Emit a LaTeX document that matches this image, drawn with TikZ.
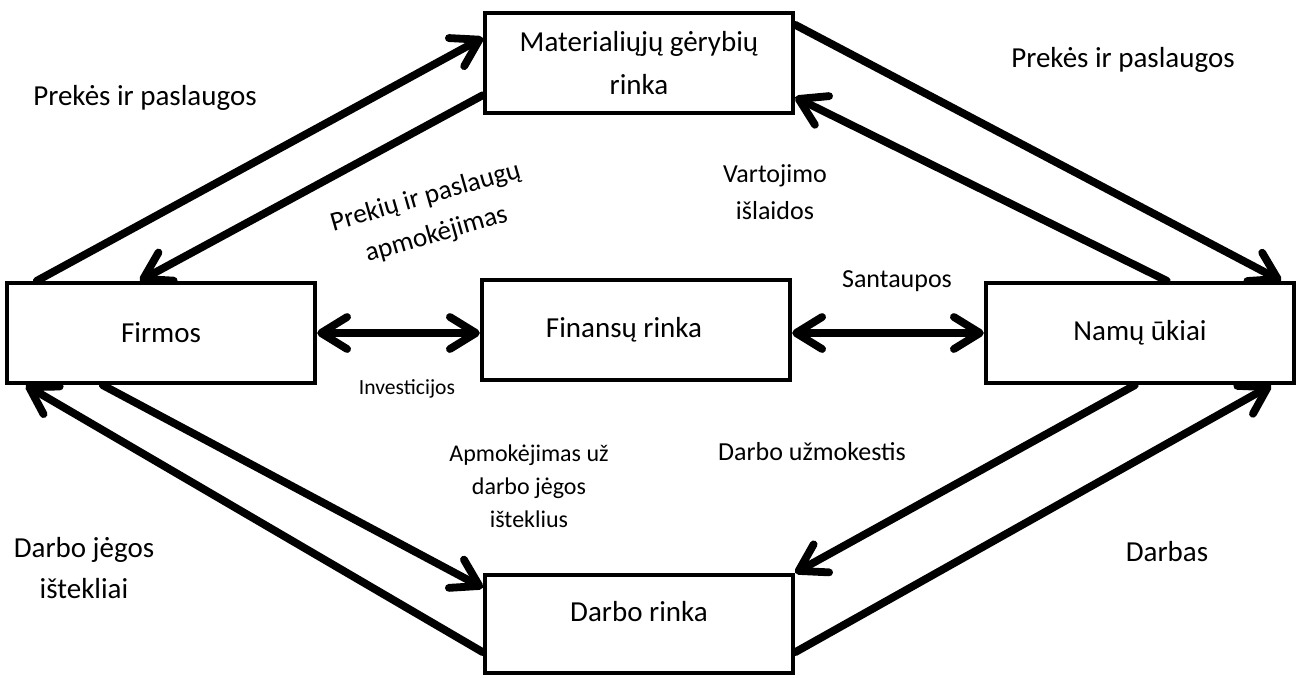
\documentclass[tikz,border=0pt]{standalone}
\usepackage{fontspec}
\setmainfont{Carlito}
\usetikzlibrary{arrows.meta,calc}

\begin{document}
\begin{tikzpicture}[
  x=0.5pt, y=-0.5pt,
  box/.style={draw, line width=2.2pt, minimum width=154pt, minimum height=50pt,
    inner sep=0pt, align=center, font=\fontsize{14.5}{20.5}\selectfont},
  flow/.style={line width=3.9pt, line cap=round,
    -{Straight Barb[length=13pt,width=16pt,round]}},
  twoway/.style={line width=3.9pt,
    {Straight Barb[length=13pt,width=16pt,round]}-{Straight Barb[length=13pt,width=16pt,round]}},
  bigtxt/.style={align=center, inner sep=0pt, font=\fontsize{14.5}{20.5}\selectfont},
  txt/.style={align=center, inner sep=0pt, font=\fontsize{13}{18.5}\selectfont},
]
\useasboundingbox (0,0) rectangle (1298,677);
% markets and sectors
\node[box] (mat) at (639,63) {Materialiųjų gėrybių\\[1pt]rinka};
\node[box] (firmos) at (161,333) {Firmos};
\node[box] (fin) at (636,330) {Finansų rinka\hspace*{12pt}};
\node[box] (namu) at (1140,333) {Namų ūkiai};
\node[box, minimum height=49pt, text depth=12.6pt] (darbo) at (639,624) {Darbo rinka};
% goods flows
\draw[flow] ($(firmos.north west)+(32,0)$) -- ($(mat.north west)+(0,27)$);
\draw[flow] ($(mat.south west)+(0,-20)$) -- ($(firmos.north west)+(135,0)$);
\draw[flow] ($(mat.north east)+(0,14)$) -- ($(namu.north east)+(-15,0)$);
\draw[flow] ($(namu.north west)+(183,0)$) -- ($(mat.south east)+(0,-18)$);
% financial market
\draw[twoway] (firmos.east) -- (fin.west |- firmos.east);
\draw[twoway] (fin.east |- namu.west) -- (namu.west);
% labour flows
\draw[flow] ($(firmos.south west)+(98,0)$) -- ($(darbo.north west)+(0,15)$);
\draw[flow] ($(darbo.south west)+(0,-23)$) -- ($(firmos.south west)+(21,0)$);
\draw[flow] ($(namu.south west)+(151,0)$) -- (darbo.north east);
\draw[flow] ($(darbo.south east)+(0,-23)$) -- ($(namu.south east)+(-25,0)$);
% labels
\node[bigtxt] (prekes1) at (145,98) {Prekės ir paslaugos};
\node[bigtxt] (prekes2) at (1123,60) {Prekės ir paslaugos};
\node[txt, rotate=16, font=\fontsize{13.6}{19.5}\selectfont] (apmok1) at (431,216) {Prekių ir paslaugų\\apmokėjimas};
\node[txt] (vart) at (775,192) {Vartojimo\\išlaidos};
\node[txt] (sant) at (897,281) {Santaupos};
\node[txt, font=\fontsize{10.8}{13}\selectfont] (inv) at (407,389) {Investicijos};
\node[txt, font=\fontsize{12}{16.5}\selectfont] (apmok2) at (529,486) {Apmokėjimas už\\darbo jėgos\\išteklius};
\node[txt] (uzm) at (812,452) {Darbo užmokestis};
\node[bigtxt] (jegos) at (84,568) {Darbo jėgos\\ištekliai};
\node[bigtxt] (darbas) at (1167,552) {Darbas};
\end{tikzpicture}
\end{document}
